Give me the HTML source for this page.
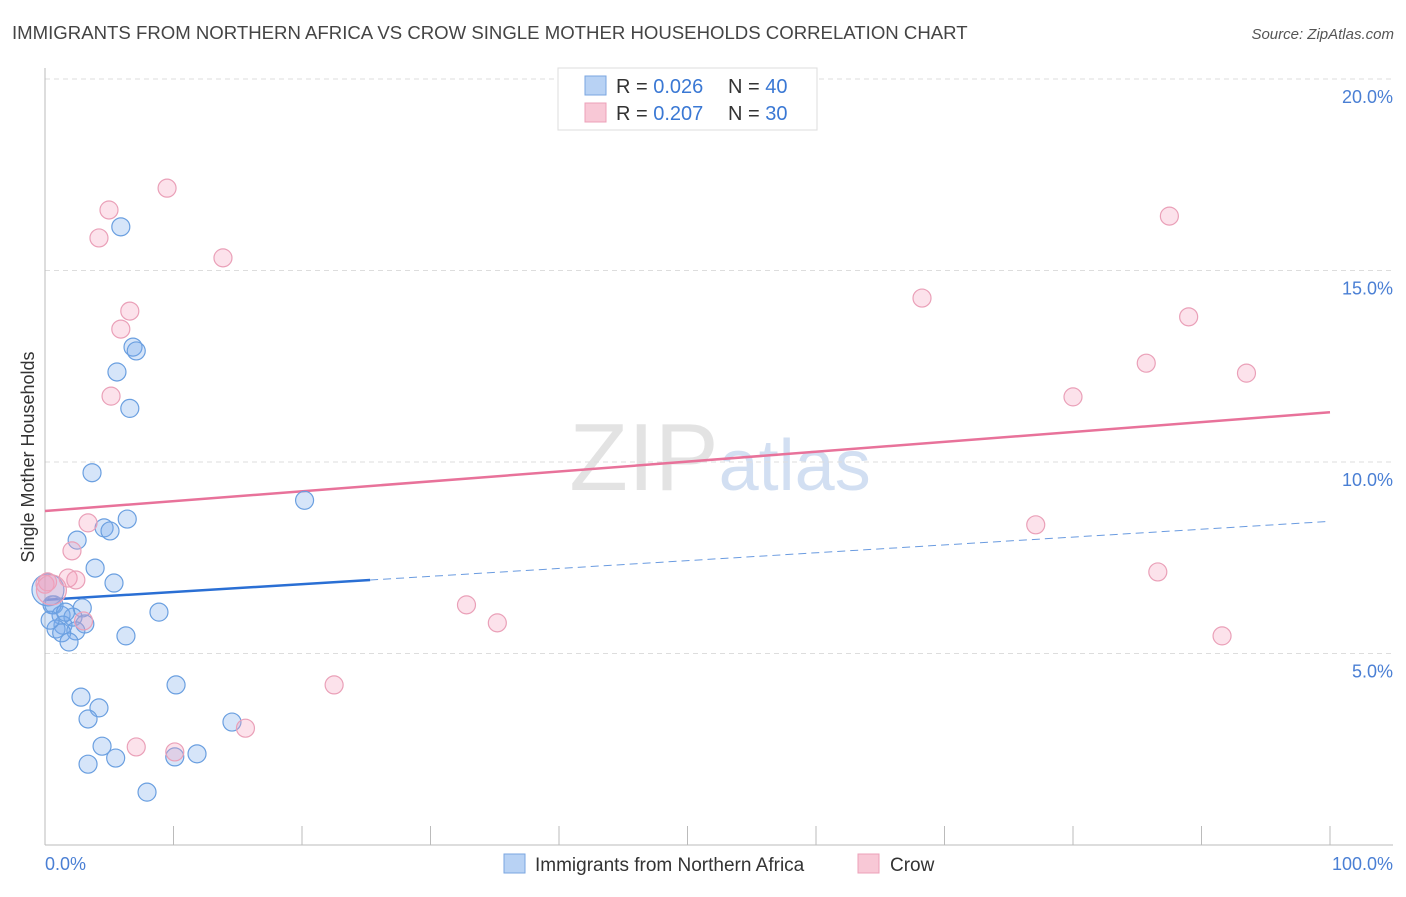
<!DOCTYPE html>
<html><head><meta charset="utf-8"><style>
body{margin:0;background:#fff;font-family:"Liberation Sans",sans-serif;}
svg text{font-family:"Liberation Sans",sans-serif;}
</style></head><body>
<svg id="chart" width="1406" height="892" xmlns="http://www.w3.org/2000/svg">
<text x="12" y="39" font-size="18.6" fill="#444">IMMIGRANTS FROM NORTHERN AFRICA VS CROW SINGLE MOTHER HOUSEHOLDS CORRELATION CHART</text>
<text x="1394" y="39" font-size="15" fill="#555" text-anchor="end" font-style="italic">Source: ZipAtlas.com</text>
<text x="720" y="490" font-size="96" fill="#ddd" text-anchor="middle" font-family="Liberation Serif" opacity="0.8">ZIP<tspan fill="#c8d8ef" font-family="Liberation Sans" font-size="72">atlas</tspan></text>
<g id="grid"></g>
<g id="axes"></g>
<g id="lines"></g>
<g id="pts"></g>
<text transform="translate(34,457) rotate(-90)" font-size="18" fill="#333" text-anchor="middle">Single Mother Households</text>
<text x="45" y="870" font-size="18" fill="#4a7fd4">0.0%</text>
<text x="1393" y="870" font-size="18" fill="#4a7fd4" text-anchor="end">100.0%</text>
<g>
<rect x="558" y="68" width="259" height="62" fill="#fff" stroke="#ddd"/>
<rect x="585" y="76" width="21" height="19" fill="#b8d2f4" stroke="#7aa6e0"/>
<rect x="585" y="103" width="21" height="19" fill="#f8c8d6" stroke="#eca0b8"/>
<text x="616" y="93" font-size="20" fill="#333">R = <tspan fill="#3a78d4">0.026</tspan><tspan x="728">N = </tspan><tspan fill="#3a78d4">40</tspan></text>
<text x="616" y="120" font-size="20" fill="#333">R = <tspan fill="#3a78d4">0.207</tspan><tspan x="728">N = </tspan><tspan fill="#3a78d4">30</tspan></text>
</g>
<g>
<rect x="504" y="854" width="21" height="19" fill="#b8d2f4" stroke="#7aa6e0"/>
<text x="535" y="871" font-size="19" fill="#333">Immigrants from Northern Africa</text>
<rect x="858" y="854" width="21" height="19" fill="#f8c8d6" stroke="#eca0b8"/>
<text x="890" y="871" font-size="19" fill="#333">Crow</text>
</g>
</svg>
<script>
const yTicks=[5,10,15,20];
const xTicks=[0,10,20,30,40,50,60,70,80,90,100];
const blueX=[5.9,6.85,7.1,5.6,6.6,3.66,20.2,6.4,4.6,5.06,2.5,3.9,5.37,0.7,2.9,8.87,1.25,2.18,3.1,1.4,0.86,2.4,1.3,6.3,1.87,10.2,2.8,4.2,3.35,14.55,4.44,11.83,10.1,5.5,3.35,7.94,0.55,1.6,0.4,0.23];
const blueY=[16.14,13.0,12.9,12.35,11.4,9.72,9.0,8.51,8.28,8.2,7.96,7.23,6.84,6.27,6.19,6.08,6.0,5.95,5.77,5.74,5.64,5.59,5.54,5.46,5.3,4.18,3.86,3.58,3.29,3.21,2.58,2.38,2.3,2.27,2.11,1.38,6.27,6.08,5.87,6.66];
const pinkX=[9.5,4.98,4.2,13.85,6.6,5.9,5.14,3.35,2.1,1.8,2.4,0,3.0,7.1,10.1,15.6,22.5,32.8,35.2,68.25,87.5,89.0,85.7,93.5,80.0,77.1,86.6,91.6,0.2,0.5];
const pinkY=[17.15,16.58,15.85,15.33,13.94,13.47,11.72,8.41,7.68,6.97,6.92,6.81,5.85,2.56,2.43,3.05,4.18,6.27,5.8,14.28,16.42,13.79,12.58,12.32,11.7,8.36,7.13,5.46,6.87,6.66];
const blueFit=[6.4,0.0205];
const pinkFit=[8.72,0.0258];
const X=v=>45+v*12.85, Y=v=>845-v*38.3;
const NS="http://www.w3.org/2000/svg";
function mk(t,a,p){const e=document.createElementNS(NS,t);for(const k in a)e.setAttribute(k,a[k]);p.appendChild(e);return e;}
const grid=document.getElementById('grid'),axes=document.getElementById('axes'),lines=document.getElementById('lines'),pts=document.getElementById('pts');
yTicks.forEach(v=>{
const l=mk('line',{x1:45,x2:1393,y1:Y(v),y2:Y(v),stroke:'#ddd','stroke-dasharray':'5,4'},grid);


const t=mk('text',{x:1393,y:Y(v)+24,'font-size':18,fill:'#4a7fd4','text-anchor':'end'},grid);
t.textContent=v.toFixed(1)+'%';


});
const ax=mk('line',{x1:45,x2:45,y1:68,y2:845,stroke:'#bbb'},axes);


const bx=mk('line',{x1:45,x2:1393,y1:845,y2:845,stroke:'#bbb'},axes);


xTicks.forEach(v=>{
const t=mk('line',{x1:X(v),x2:X(v),y1:826,y2:845,stroke:'#bbb'},axes);


});
const pl=mk('line',{x1:X(0),y1:Y(pinkFit[0]),x2:X(100),y2:Y(pinkFit[0]+pinkFit[1]*100),stroke:'#e8729a','stroke-width':2.5},lines);


const bs=mk('line',{x1:X(0),y1:Y(blueFit[0]),x2:X(25.3),y2:Y(blueFit[0]+blueFit[1]*25.3),stroke:'#2a6fd4','stroke-width':2.5},lines);


const bd=mk('line',{x1:X(25.3),y1:Y(blueFit[0]+blueFit[1]*25.3),x2:X(100),y2:Y(blueFit[0]+blueFit[1]*100),stroke:'#6a9be0','stroke-width':1,'stroke-dasharray':'8,5'},lines);


blueX.forEach((v,i)=>{
const c=mk('circle',{cx:X(v),cy:Y(blueY[i]),r:i===blueX.length-1?16:9,fill:'rgba(120,170,235,0.3)',stroke:'#6a9fe0','stroke-width':1.2},pts);


});
pinkX.forEach((v,i)=>{
const c=mk('circle',{cx:X(v),cy:Y(pinkY[i]),r:i===pinkX.length-1?15:9,fill:'rgba(245,160,190,0.3)',stroke:'#eaa0b8','stroke-width':1.2},pts);


});
</script>
</body></html>
